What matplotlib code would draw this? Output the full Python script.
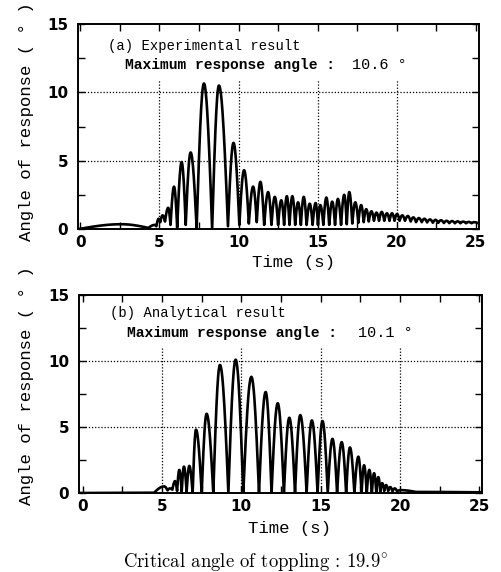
import numpy as np
import matplotlib
matplotlib.use("Agg")
import matplotlib.pyplot as plt

# Turning points (alternating trough / peak)
a_t = [0.0, 2.6, 4.3, 4.7, 4.8, 4.95, 5.05, 5.2, 5.35, 5.55, 5.7, 5.92, 6.12, 6.4, 6.66, 6.97,
       7.35, 7.81, 8.33, 8.76, 9.33, 9.68, 10.05, 10.35, 10.65, 10.92, 11.15, 11.38, 11.62, 11.87,
       12.08, 12.29, 12.5, 12.7, 12.88, 13.05, 13.22, 13.4, 13.58, 13.76, 13.94, 14.12, 14.3, 14.5,
       14.68, 14.87, 15.02, 15.17, 15.36, 15.55, 15.73, 15.92, 16.1, 16.28, 16.48, 16.68, 16.84, 17.0,
       17.19, 17.38, 17.57, 17.75, 17.91, 18.07, 18.23, 18.4, 18.56, 18.72, 18.88, 19.05, 19.21, 19.38,
       19.54, 19.7, 19.86, 20.02, 20.18, 20.35, 20.52, 20.7, 20.88, 21.05, 21.22, 21.4, 21.58, 21.75,
       21.92, 22.1, 22.28, 22.45, 22.62, 22.8, 22.98, 23.15, 23.32, 23.5, 23.68, 23.85, 24.02, 24.2,
       24.38, 24.55, 24.72, 24.9, 25.1]
a_v = [0.02, 0.35, 0.08, 0.3, 0.2, 0.75, 0.5, 1.0, 0.55, 1.55, 0.3, 3.1, 0.1, 4.9, 0.3, 5.6,
       0.05, 10.65, 0.0, 10.5, 0.2, 6.3, 0.3, 4.3, 0.4, 3.1, 0.5, 3.45, 0.3, 2.7,
       0.3, 2.35, 0.3, 2.1, 0.3, 2.4, 0.3, 2.4, 0.3, 1.95, 0.3, 2.35, 0.3, 1.85,
       0.3, 1.9, 0.3, 1.75, 0.3, 2.3, 0.3, 2.0, 0.3, 2.2, 0.3, 2.5, 0.35, 2.7,
       0.4, 1.95, 0.45, 1.75, 0.5, 1.45, 0.55, 1.3, 0.6, 1.2, 0.6, 1.25, 0.6, 1.15,
       0.6, 1.15, 0.6, 1.1, 0.6, 1.0, 0.6, 0.95, 0.55, 0.85, 0.5, 0.8, 0.5, 0.75,
       0.48, 0.7, 0.46, 0.67, 0.45, 0.64, 0.44, 0.6, 0.43, 0.58, 0.42, 0.56, 0.42, 0.54,
       0.42, 0.52, 0.42, 0.5, 0.45]

b_t = [-0.2, 4.5, 5.14, 5.35, 5.5, 5.65, 5.82, 5.95, 6.09, 6.24, 6.38, 6.55, 6.72, 6.93, 7.14,
       7.5, 7.81, 8.23, 8.65, 9.18, 9.64, 10.12, 10.63, 11.11, 11.53, 11.9, 12.29, 12.68, 13.02,
       13.38, 13.71, 14.11, 14.44, 14.8, 15.11, 15.44, 15.74, 16.03, 16.32, 16.6, 16.84, 17.12,
       17.37, 17.57, 17.73, 17.9, 18.06, 18.22, 18.36, 18.5, 18.63, 18.75, 18.87, 19.0, 19.12,
       19.25, 19.38, 19.52, 19.66, 19.82, 20.0, 21.0, 25.2]
b_v = [0.0, 0.02, 0.5, 0.2, 0.35, 0.25, 0.9, 0.15, 1.75, 0.1, 2.0, 0.1, 2.05, 0.0, 4.8,
       0.0, 6.0, 0.0, 9.7, 0.0, 10.1, 0.0, 8.8, 0.0, 7.65, 0.0, 6.8, 0.0, 5.7,
       0.0, 5.9, 0.0, 5.5, 0.0, 5.45, 0.0, 4.1, 0.0, 3.85, 0.0, 3.45, 0.0,
       2.75, 0.0, 2.1, 0.0, 1.75, 0.0, 1.5, 0.05, 1.2, 0.1, 0.75, 0.15, 0.6,
       0.15, 0.45, 0.12, 0.35, 0.1, 0.22, 0.08, 0.05]

y_ticks = [0, 5, 10, 15]
x_ticks = [0, 5, 10, 15, 20, 25]
grid_x = [5, 10, 15, 20]
grid_y = [5, 10]

mono = "Liberation Mono"
plt.rcParams["mathtext.fontset"] = "cm"


def arch_path(ts, vs, n=24):
    # rounded at the high end of each stroke, pointed at the low end
    xs, ys = [ts[0]], [vs[0]]
    s = np.linspace(0, 1, n)[1:]
    for t0, v0, t1, v1 in zip(ts[:-1], vs[:-1], ts[1:], vs[1:]):
        if v1 >= v0:
            y = v0 + (v1 - v0) * np.sin(np.pi / 2 * s)
        else:
            y = v1 + (v0 - v1) * np.cos(np.pi / 2 * s)
        xs.extend(t0 + (t1 - t0) * s)
        ys.extend(y)
    return xs, ys


def style_axes(ax, xlim):
    ax.set_xlim(*xlim)
    ax.set_ylim(0, 15)
    ax.set_xticks(x_ticks)
    ax.set_yticks(y_ticks)
    ax.set_xticks(np.arange(2.5, 25, 5), minor=True)
    ax.set_yticks([2.5, 7.5, 12.5], minor=True)
    ax.tick_params(which="both", direction="in", top=True, right=True, width=1.0, length=5)
    ax.tick_params(axis="x", pad=4)
    ax.tick_params(axis="y", pad=7)
    for lab in ax.get_xticklabels() + ax.get_yticklabels():
        lab.set_fontweight("bold")
        lab.set_fontsize(11)
        lab.set_family("DejaVu Sans")
    for sp in ax.spines.values():
        sp.set_linewidth(1.4)
    for gy in grid_y:
        ax.axhline(gy, color="black", linestyle=(0, (1, 1.5)), linewidth=0.9, zorder=1)
    for gx in grid_x:
        ax.axvline(gx, ymax=11 / 15, color="black", linestyle=(0, (1, 1.5)), linewidth=0.9, zorder=1)


fig = plt.figure(figsize=(5.01, 5.72), dpi=100)

ax_a = fig.add_axes([78 / 501, (572 - 229) / 572, 401 / 501, 205 / 572])
style_axes(ax_a, (-0.15, 25.2))
xa, ya = arch_path(a_t, a_v)
ax_a.plot(xa, ya, color="black", linewidth=1.9, zorder=3)
ax_a.text(1.76, 13.4, "(a) Experimental result", family=mono, fontsize=10, va="center")
ax_a.text(2.84, 12.0, "Maximum response angle :", family=mono, fontweight="bold",
          fontsize=10.5, va="center")
ax_a.text(17.2, 12.0, "10.6 °", family=mono, fontsize=11, va="center")

ax_b = fig.add_axes([79 / 501, (572 - 493) / 572, 403 / 501, 198 / 572])
style_axes(ax_b, (-0.23, 25.16))
xb, yb = arch_path(b_t, b_v)
ax_b.plot(xb, yb, color="black", linewidth=1.9, zorder=3)
ax_b.text(1.72, 13.6, "(b) Analytical result", family=mono, fontsize=10, va="center")
ax_b.text(2.8, 12.1, "Maximum response angle :", family=mono, fontweight="bold",
          fontsize=10.5, va="center")
ax_b.text(17.35, 12.1, "10.1 °", family=mono, fontsize=11, va="center")

# axis titles
fig.text(27 / 501, 1 - 122 / 572, "Angle of response ( ° )", rotation=90,
         ha="center", va="center", family=mono, fontsize=12.5)
fig.text(27 / 501, 1 - 386 / 572, "Angle of response ( ° )", rotation=90,
         ha="center", va="center", family=mono, fontsize=12.5)
fig.text(293 / 501, 1 - 262 / 572, "Time (s)", ha="center", va="center",
         family=mono, fontsize=12.5)
fig.text(290 / 501, 1 - 528 / 572, "Time (s)", ha="center", va="center",
         family=mono, fontsize=12.5)

fig.text(256 / 501, 1 - 562 / 572, r"Critical angle of toppling : 19.9$^{\circ}$", ha="center",
         va="center", family="cmr10", fontsize=13.5)

fig.savefig("out.png", dpi=100)
